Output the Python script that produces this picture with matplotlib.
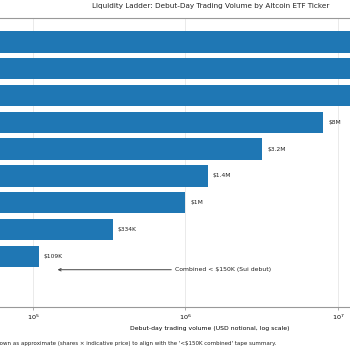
import numpy as np
import matplotlib.pyplot as plt

# debut-day volumes (USD notional), top to bottom
tickers = ["XRPC", "BSOL", "XRP", "HBR", "GSOL", "SSK", "LTCC", "XRPZ", "SUIS"]
volumes = [58e6, 55.4e6, 25.7e6, 8e6, 3.2e6, 1.4e6, 1e6, 334e3, 109e3]
labels = ["$58M", "$55.4M", "$25.7M", "$8M", "$3.2M", "$1.4M", "$1M", "$334K", "$109K"]

fig = plt.figure(figsize=(3.5, 3.5), dpi=100)
# axes runs past the left/right edge of the canvas like the reference crop
ax = fig.add_axes([-0.1236, 0.1229, 1.444, 0.8257])

y = np.arange(len(tickers))
ax.barh(y, volumes, height=0.8, color="#1f77b4", zorder=2)
ax.set_xscale("log")
ax.set_xlim(10 ** 4.5, 10 ** 7.815)
ax.set_ylim(9.89, -0.89)
ax.set_yticks(y)
ax.set_yticklabels(tickers, fontsize=4.6)

for yi, v, lab in zip(y, volumes, labels):
    ax.text(v * 1.08, yi, lab, va="center", ha="left", fontsize=4.3, color="#222222")

ax.annotate("Combined < $150K (Sui debut)", xy=(1.45e5, 8.5), xytext=(8.6e5, 8.5),
            va="center", ha="left", fontsize=4.45, color="#222222",
            arrowprops=dict(arrowstyle="->", color="#444444", lw=0.7, shrinkA=1, shrinkB=0))

ax.set_xlabel("Debut-day trading volume (USD notional, log scale)", fontsize=4.45, labelpad=3)
ax.tick_params(axis="x", labelsize=4.6, length=2, width=0.5, color="#888888", pad=2)
ax.tick_params(axis="x", which="minor", length=0)
ax.tick_params(axis="y", length=0)
ax.grid(axis="x", which="major", color="#e2e2e2", lw=0.5, zorder=0)
for s in ax.spines.values():
    s.set_color("#999999")
    s.set_linewidth(0.8)

fig.text(211 / 350, 1 - 6 / 350, "Liquidity Ladder: Debut-Day Trading Volume by Altcoin ETF Ticker",
         ha="center", va="center", fontsize=5.25, color="#222222")
fig.text(276 / 350, 1 - 343 / 350,
         "Note: Sui ETF volumes are shown as approximate (shares \u00d7 indicative price) to align with the '<$150K combined' tape summary.",
         ha="right", va="center", fontsize=3.95, color="#222222")

fig.savefig("out.png", dpi=100)
